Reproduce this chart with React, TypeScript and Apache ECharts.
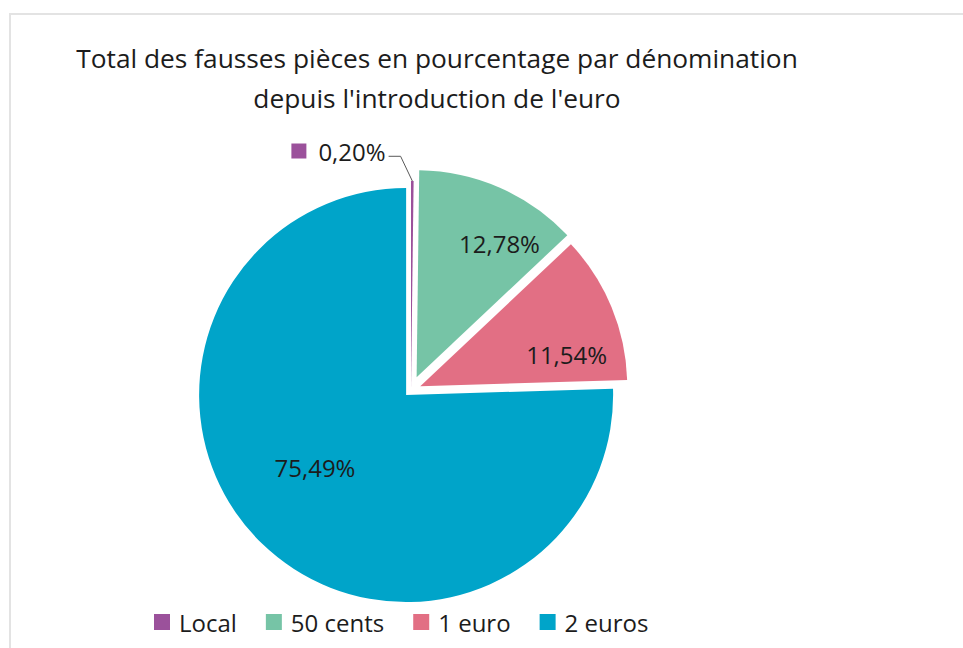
import React, { useEffect, useRef } from "react";
import * as echarts from "echarts";

// ---- data ----
const categories = ["Local", "50 cents", "1 euro", "2 euros"];
const values = [0.2, 12.78, 11.54, 75.49];
const titleLines = [
  "Total des fausses pièces en pourcentage par dénomination",
  "depuis l'introduction de l'euro",
];

// ---- styles ----
const COLORS = ["#9b519b", "#76c4a6", "#e26f84", "#00a4c9"];
const EXPLODE = [2, 14, 10, 7];
const LABEL_SHIFT: number[][] = [
  [-138, -18],
  [40, -36],
  [48, 9],
  [-17, -4],
];
const FONT = "'Open Sans', 'Noto Sans', sans-serif";
const TEXT_COLOR = "#1c1c1c";

const fmt = (v: number) => v.toFixed(2).replace(".", ",") + "%";

export default function App() {
  const ref = useRef<HTMLDivElement>(null);

  useEffect(() => {
    if (!ref.current) return;
    const chart = echarts.init(ref.current, null, { renderer: "svg" });

    const series = categories.map((_, i) => ({
      type: "pie",
      name: "s" + i,
      center: [411, 390],
      radius: 207,
      startAngle: 90,
      clockwise: true,
      selectedMode: "single",
      selectedOffset: EXPLODE[i],
      avoidLabelOverlap: false,
      emphasis: { disabled: true },
      z: 2 + i,
      labelLayout: (p: any) => {
        if (p.dataIndex !== i) return {};
        const [dx, dy] = LABEL_SHIFT[i];
        if (i === 0 && p.labelLinePoints) {
          const r = p.labelRect;
          const p0 = p.labelLinePoints[0];
          const p2 = [r.x + dx + r.width + 3, r.y + dy + r.height * 0.72];
          const p1 = [p2[0] + 12, p2[1]];
          return { dx, dy, labelLinePoints: [p0, p1, p2] };
        }
        return { dx, dy };
      },
      data: categories.map((name, j) => {
        const own = j === i;
        const outside = j === 0;
        return {
          name,
          value: values[j],
          selected: own,
          itemStyle: { color: own ? COLORS[j] : "rgba(0,0,0,0)" },
          label: own
            ? outside
              ? {
                  show: true,
                  position: "outside",
                  formatter: "{sq|}{t|" + fmt(values[j]) + "}",
                  rich: {
                    sq: {
                      width: 15,
                      height: 15,
                      backgroundColor: COLORS[j],
                    },
                    t: {
                      fontSize: 24,
                      fontFamily: FONT,
                      color: TEXT_COLOR,
                      padding: [0, 0, 0, 12],
                    },
                  },
                }
              : {
                  show: true,
                  position: "inside",
                  formatter: fmt(values[j]),
                  fontSize: 24,
                  fontFamily: FONT,
                  color: TEXT_COLOR,
                }
            : { show: false },
          labelLine: own && outside
            ? {
                show: true,
                length: 12,
                length2: 12,
                lineStyle: { color: "#595959", width: 1 },
              }
            : { show: false },
        };
      }),
    }));

    chart.setOption({
      animation: false,
      backgroundColor: "#ffffff",
      title: {
        text: titleLines.join("\n"),
        left: 437,
        top: 38,
        padding: 0,
        textAlign: "center",
        textStyle: {
          fontFamily: FONT,
          fontSize: 26.3,
          fontWeight: "normal",
          color: TEXT_COLOR,
          lineHeight: 40,
        },
      },
      legend: {
        left: 154,
        top: 610,
        padding: 0,
        icon: "rect",
        itemWidth: 16,
        itemHeight: 16,
        itemGap: 29,
        selectedMode: false,
        data: categories.map((name, j) => ({
          name,
          itemStyle: { color: COLORS[j] },
        })),
        textStyle: {
          fontFamily: FONT,
          fontSize: 24,
          color: TEXT_COLOR,
          padding: [0, 0, 0, 4],
        },
      },
      graphic: [
        {
          type: "rect",
          z: -10,
          silent: true,
          shape: { x: 10, y: 14, width: 1200, height: 900 },
          style: { fill: "none", stroke: "#e3e3e3", lineWidth: 2 },
        },
      ],
      series,
    });

    return () => chart.dispose();
  }, []);

  return (
    <div
      ref={ref}
      style={{ position: "absolute", left: 0, top: 0, width: 963, height: 648 }}
    />
  );
}
